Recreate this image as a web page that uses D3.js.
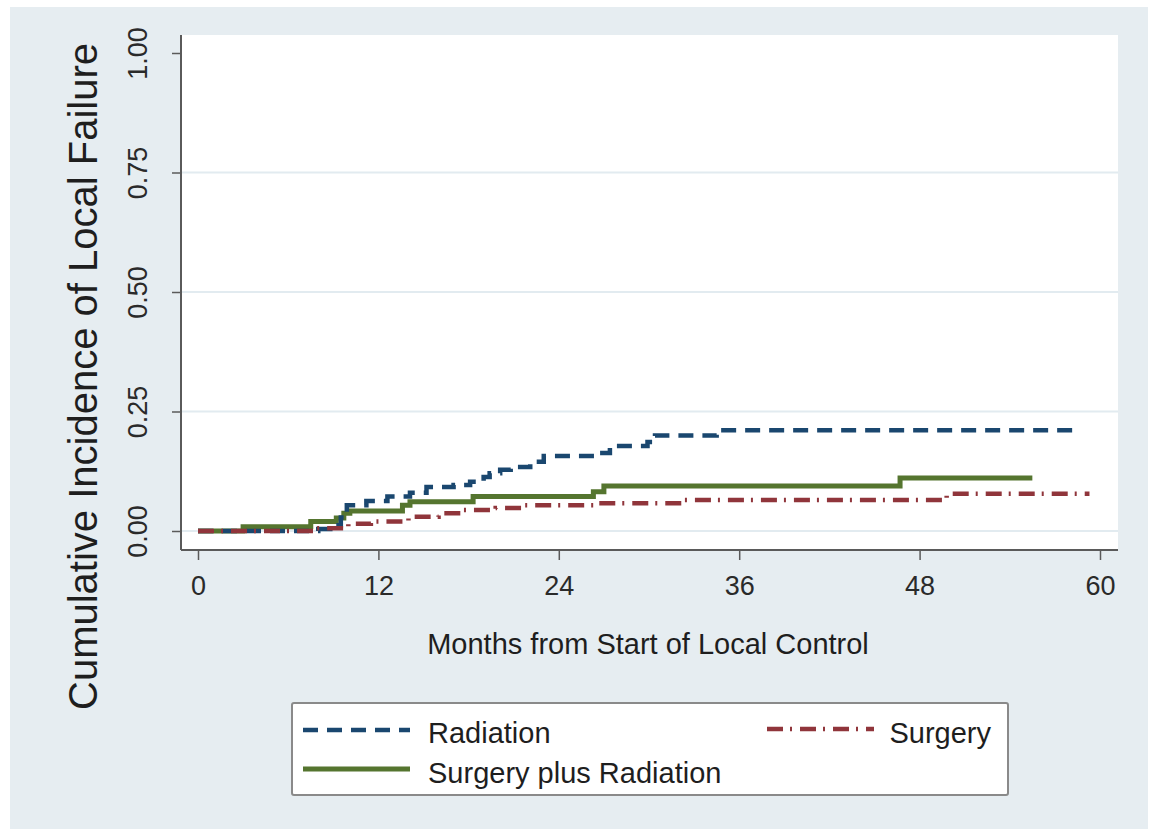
<!DOCTYPE html>
<html>
<head>
<meta charset="utf-8">
<script src="https://cdn.jsdelivr.net/npm/d3@7"></script>
<style>
  html, body { margin: 0; padding: 0; background: #fff; }
  svg { display: block; font-family: "Liberation Sans", Arial, sans-serif; }
</style>
</head>
<body>
<svg id="chart"></svg>
<script>
// months / cumulative incidence (step functions)
const radMonths = [0, 8.0, 8.8, 9.5, 9.9, 11.2, 12.6, 14.1, 15.2, 17.0, 18.1, 19.0, 19.4, 20.1, 20.8, 22.1, 23.0, 26.5, 27.4, 29.9, 30.4, 34.5, 58.5];
const radValues = [0, 0.004, 0.012, 0.028, 0.054, 0.063, 0.072, 0.080, 0.092, 0.096, 0.103, 0.113, 0.121, 0.128, 0.134, 0.145, 0.157, 0.163, 0.178, 0.186, 0.200, 0.211, 0.211];

const surMonths = [0, 7.5, 10.0, 11.5, 14.0, 16.0, 17.5, 19.8, 21.5, 26.4, 32.2, 49.8, 59.3];
const surValues = [0, 0.006, 0.015, 0.020, 0.030, 0.037, 0.044, 0.048, 0.054, 0.058, 0.065, 0.078, 0.078];

const bothMonths = [0, 3.0, 7.5, 9.2, 9.7, 10.1, 13.6, 14.1, 18.3, 26.3, 27.0, 46.7, 55.5];
const bothValues = [0, 0.009, 0.020, 0.027, 0.037, 0.042, 0.054, 0.061, 0.072, 0.082, 0.094, 0.111, 0.111];

const xTicks = [0, 12, 24, 36, 48, 60];
const yTicks = [0, 0.25, 0.5, 0.75, 1];
const yGrid = [0, 0.25, 0.5, 0.75];

const series = [
    { name: "Radiation", months: radMonths, values: radValues, color: "#1a476f", width: 4.5, dash: "15,9" },
    { name: "Surgery", months: surMonths, values: surValues, color: "#90353b", width: 4.5, dash: "16,7,2,8" },
    { name: "Surgery plus Radiation", months: bothMonths, values: bothValues, color: "#55752f", width: 5, dash: null }
];

const [W, H] = [1153, 829];
const plot = { left: 181, right: 1118, top: 35, bottom: 550 };
const axisColor = "#5a5a5a";

const svg = d3.select("#chart")
    .attr("width", W)
    .attr("height", H);

// outer graph region
svg.append("rect")
    .attr("x", 10).attr("y", 7)
    .attr("width", 1138).attr("height", H - 7)
    .attr("fill", "#e6edf1");

// plot region
svg.append("rect")
    .attr("x", plot.left).attr("y", plot.top)
    .attr("width", plot.right - plot.left).attr("height", plot.bottom - plot.top)
    .attr("fill", "#fff");

const xScale = d3.scaleLinear()
    .domain([0, 60])
    .range([198, 1100]);

const yScale = d3.scaleLinear()
    .domain([0, 1])
    .range([531, 53]);

// grid lines
svg.append("g")
    .selectAll("line")
    .data(yGrid)
    .join("line")
    .attr("x1", plot.left).attr("x2", plot.right)
    .attr("y1", d => yScale(d)).attr("y2", d => yScale(d))
    .attr("stroke", "#e2ebf0")
    .attr("stroke-width", 2);

// axes
const xAxis = d3.axisBottom(xScale)
    .tickValues(xTicks)
    .tickSize(10)
    .tickPadding(16);

const yAxis = d3.axisLeft(yScale)
    .tickValues(yTicks)
    .tickSize(9)
    .tickFormat(d3.format(".2f"));

const gx = svg.append("g")
    .attr("transform", `translate(0,${plot.bottom})`)
    .call(xAxis);
gx.select(".domain").remove();
gx.selectAll(".tick line").attr("stroke", axisColor).attr("stroke-width", 1.5);
gx.selectAll(".tick text")
    .attr("fill", "#2a2a2a")
    .attr("font-size", 27)
    .attr("font-family", "Liberation Sans, Arial, sans-serif");

const gy = svg.append("g")
    .attr("transform", `translate(${plot.left},0)`)
    .call(yAxis);
gy.select(".domain").remove();
gy.selectAll(".tick line").attr("stroke", axisColor).attr("stroke-width", 1.5);
gy.selectAll(".tick text")
    .attr("fill", "#2a2a2a")
    .attr("font-size", 27)
    .attr("font-family", "Liberation Sans, Arial, sans-serif")
    .attr("x", null).attr("dy", null)
    .attr("text-anchor", "middle")
    .attr("transform", "translate(-34,0) rotate(-90)");

// axis lines along the plot region
svg.append("line")
    .attr("x1", plot.left).attr("x2", plot.right)
    .attr("y1", plot.bottom).attr("y2", plot.bottom)
    .attr("stroke", axisColor).attr("stroke-width", 2);
svg.append("line")
    .attr("x1", plot.left).attr("x2", plot.left)
    .attr("y1", plot.top).attr("y2", plot.bottom)
    .attr("stroke", axisColor).attr("stroke-width", 2);

// titles
svg.append("text")
    .attr("transform", `translate(97,${(plot.top + plot.bottom) / 2 + 84}) rotate(-90)`)
    .attr("text-anchor", "middle")
    .attr("font-size", 40)
    .attr("fill", "#1e1e1e")
    .text("Cumulative Incidence of Local Failure");

svg.append("text")
    .attr("x", 648)
    .attr("y", 654)
    .attr("text-anchor", "middle")
    .attr("font-size", 29)
    .attr("fill", "#1e1e1e")
    .text("Months from Start of Local Control");

// curves
const line = d3.line()
    .x(d => xScale(d[0]))
    .y(d => yScale(d[1]))
    .curve(d3.curveStepAfter);

svg.append("g")
    .selectAll("path")
    .data([series[2], series[0], series[1]])
    .join("path")
    .attr("d", s => line(d3.zip(s.months, s.values)))
    .attr("fill", "none")
    .attr("stroke", s => s.color)
    .attr("stroke-width", s => s.width)
    .attr("stroke-dasharray", s => s.dash);

// legend
const legend = svg.append("g");
legend.append("rect")
    .attr("x", 292).attr("y", 703)
    .attr("width", 716).attr("height", 92)
    .attr("rx", 2)
    .attr("fill", "#fff")
    .attr("stroke", "#8a8a8a")
    .attr("stroke-width", 2);

const legendPos = [
    { x1: 303, x2: 410, y: 730, tx: 428, ty: 743, anchor: "start" },
    { x1: 767, x2: 874, y: 729, tx: 991, ty: 743, anchor: "end" },
    { x1: 303, x2: 410, y: 769, tx: 428, ty: 783, anchor: "start" }
];

series.forEach((s, i) => {
    const p = legendPos[i];
    legend.append("line")
        .attr("x1", p.x1).attr("x2", p.x2)
        .attr("y1", p.y).attr("y2", p.y)
        .attr("stroke", s.color)
        .attr("stroke-width", s.width)
        .attr("stroke-dasharray", s.dash);
    legend.append("text")
        .attr("x", p.tx).attr("y", p.ty)
        .attr("text-anchor", p.anchor)
        .attr("font-size", 29)
        .attr("fill", "#1e1e1e")
        .text(s.name);
});
</script>
</body>
</html>
